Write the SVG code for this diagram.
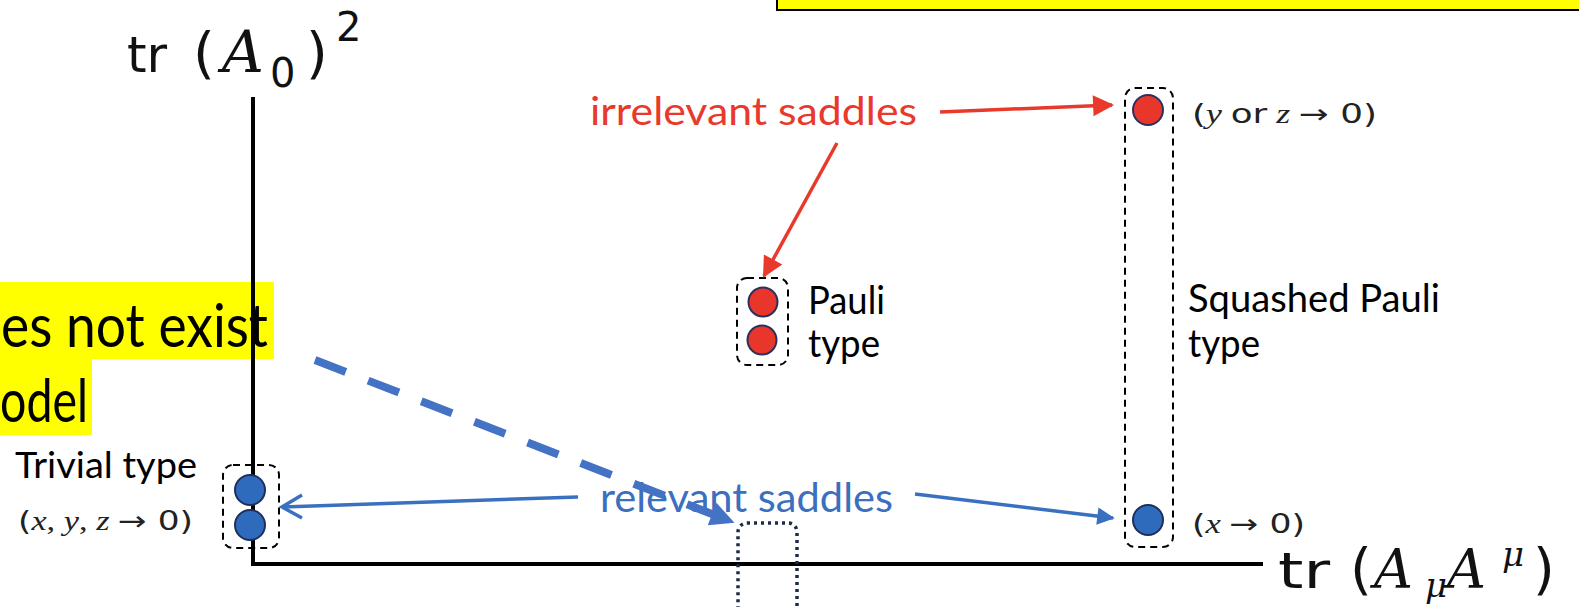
<svg xmlns="http://www.w3.org/2000/svg" width="1579" height="607" viewBox="0 0 1579 607">
  <defs>
    <style>
      .lbl { font-family: Lato, "Open Sans", "Liberation Sans", sans-serif; fill: #000; }
      .red { fill: #e8392a; }
      .blue { fill: #3b6fbf; }
      .up { font-family: "DejaVu Sans", "Liberation Sans", sans-serif; font-style: normal; }
      .it { font-family: "DejaVu Serif", "Liberation Serif", serif; font-style: italic; }
      .sit { font-family: "Liberation Serif", "DejaVu Serif", serif; font-style: italic; }
      .math { font-family: "Liberation Serif", "DejaVu Serif", serif; fill: #222; }
      .axis { stroke: #000; stroke-width: 4; fill: none; }
      .grp { fill: none; stroke: #000; stroke-width: 2; stroke-dasharray: 7 5; }
      .dotgrp { fill: none; stroke: #1f2a4a; stroke-width: 3.5; stroke-dasharray: 3 4; }
      .saddle-b { fill: #2f6bbd; stroke: #1e2f5c; stroke-width: 2; }
      .saddle-r { fill: #e8362a; stroke: #2a3060; stroke-width: 2; }
      .arrow-r { stroke: #e8392a; stroke-width: 3.5; fill: none; }
      .arrow-b { stroke: #3a70c0; stroke-width: 3.5; fill: none; }
      .hl { fill: #ffff00; }
    </style>
    <marker id="headR" viewBox="0 0 10 10" refX="9" refY="5" markerWidth="7" markerHeight="6" markerUnits="strokeWidth" orient="auto">
      <path d="M0,0 L10,5 L0,10 Z" fill="#e8392a"/>
    </marker>
    <marker id="headB" viewBox="0 0 10 10" refX="9" refY="5" markerWidth="6" markerHeight="5" markerUnits="strokeWidth" orient="auto">
      <path d="M0,0 L10,5 L0,10 Z" fill="#3a70c0"/>
    </marker>
    <marker id="headBD" viewBox="0 0 10 10" refX="8" refY="5" markerWidth="3.4" markerHeight="3" markerUnits="strokeWidth" orient="auto">
      <path d="M0,0 L10,5 L0,10 Z" fill="#4472c4"/>
    </marker>
  </defs>

  <!-- banner box at the top edge -->
  <rect x="777" y="-10" width="900" height="20" fill="#ffff00" stroke="#000" stroke-width="2"/>

  <!-- highlighted note on the left edge -->
  <g id="note">
    <rect class="hl" x="0" y="282" width="274" height="77"/>
    <rect class="hl" x="0" y="359" width="92" height="76"/>
    <text class="lbl" x="1" y="347" font-size="60" textLength="267" lengthAdjust="spacingAndGlyphs">es not exist</text>
    <text class="lbl" x="0" y="422" font-size="60" textLength="88" lengthAdjust="spacingAndGlyphs">odel</text>
  </g>

  <!-- axes -->
  <g id="axes">
    <line class="axis" x1="253" y1="97" x2="253" y2="566"/>
    <line class="axis" x1="251" y1="564" x2="1263" y2="564"/>
    <text id="y-label" y="72" font-size="50" fill="#111"><tspan class="up" x="127">tr</tspan><tspan class="up" x="193" font-size="56">(</tspan><tspan class="it" x="222" font-size="58">A</tspan><tspan class="up" x="270" y="87" font-size="40">0</tspan><tspan class="up" x="306" y="72" font-size="56">)</tspan><tspan class="up" x="336" y="41" font-size="40">2</tspan></text>
    <text id="x-label" y="588" font-size="50" fill="#111"><tspan class="up" x="1278" textLength="52" lengthAdjust="spacingAndGlyphs">tr</tspan><tspan class="up" x="1350" font-size="56">(</tspan><tspan class="it" x="1374" font-size="54">A</tspan><tspan class="it" x="1425" y="597" font-size="34">μ</tspan><tspan class="it" x="1447" y="588" font-size="54">A</tspan><tspan class="it" x="1502" y="566" font-size="34">μ</tspan><tspan class="up" x="1533" y="588" font-size="56">)</tspan></text>
  </g>

  <!-- trivial saddles -->
  <g id="trivial">
    <rect class="grp" x="223" y="465" width="56" height="83" rx="10"/>
    <circle class="saddle-b" cx="250" cy="490" r="15"/>
    <circle class="saddle-b" cx="250" cy="525" r="15"/>
    <text class="lbl" x="15" y="478" font-size="36" textLength="182" lengthAdjust="spacingAndGlyphs">Trivial type</text>
    <text class="math" x="18" y="530" font-size="27" textLength="175" lengthAdjust="spacingAndGlyphs"><tspan class="up">(</tspan><tspan class="sit">x</tspan>, <tspan class="sit">y</tspan>, <tspan class="sit">z</tspan> <tspan class="up">→ 0)</tspan></text>
  </g>

  <!-- Pauli saddles -->
  <g id="pauli">
    <rect class="grp" x="737" y="278" width="51" height="87" rx="10"/>
    <circle class="saddle-r" cx="763" cy="302" r="14.5"/>
    <circle class="saddle-r" cx="762" cy="340" r="14.5"/>
    <text class="lbl" x="808" y="314" font-size="38" textLength="77" lengthAdjust="spacingAndGlyphs">Pauli</text>
    <text class="lbl" x="808" y="357" font-size="38" textLength="72" lengthAdjust="spacingAndGlyphs">type</text>
  </g>

  <!-- squashed Pauli saddles -->
  <g id="squashed">
    <rect class="grp" x="1125" y="88" width="48" height="459" rx="10"/>
    <circle class="saddle-r" cx="1148" cy="110" r="15"/>
    <circle class="saddle-b" cx="1148" cy="520" r="15"/>
    <text class="lbl" x="1188" y="312" font-size="38" textLength="252" lengthAdjust="spacingAndGlyphs">Squashed Pauli</text>
    <text class="lbl" x="1188" y="357" font-size="38" textLength="72" lengthAdjust="spacingAndGlyphs">type</text>
    <text class="math" x="1192" y="123" font-size="27" textLength="185" lengthAdjust="spacingAndGlyphs"><tspan class="up">(</tspan><tspan class="sit">y</tspan> <tspan class="up">or</tspan> <tspan class="sit">z</tspan> <tspan class="up">→ 0)</tspan></text>
    <text class="math" x="1192" y="533" font-size="27" textLength="113" lengthAdjust="spacingAndGlyphs"><tspan class="up">(</tspan><tspan class="sit">x</tspan> <tspan class="up">→ 0)</tspan></text>
  </g>

  <!-- empty dotted slot on the horizontal axis -->
  <g id="slot">
    <rect class="dotgrp" x="738" y="523" width="59" height="110" rx="9"/>
  </g>

  <!-- labels -->
  <g id="labels">
    <text class="lbl red" x="590" y="125" font-size="38" textLength="327" lengthAdjust="spacingAndGlyphs">irrelevant saddles</text>
    <text class="lbl blue" x="600" y="512" font-size="40" textLength="293" lengthAdjust="spacingAndGlyphs">relevant saddles</text>
  </g>

  <!-- connectors -->
  <g id="connectors">
    <line class="arrow-r" x1="940" y1="112" x2="1112" y2="105" marker-end="url(#headR)"/>
    <line class="arrow-r" x1="837" y1="143" x2="764" y2="276" marker-end="url(#headR)"/>
    <line class="arrow-b" x1="578" y1="497" x2="283" y2="507"/>
    <path class="arrow-b" d="M302,495 L282,507 L302,518"/>
    <line class="arrow-b" x1="915" y1="494" x2="1113" y2="518" marker-end="url(#headB)"/>
    <line x1="315" y1="360" x2="730" y2="521" stroke="#4472c4" stroke-width="8" stroke-dasharray="33 24" marker-end="url(#headBD)"/>
  </g>
</svg>
